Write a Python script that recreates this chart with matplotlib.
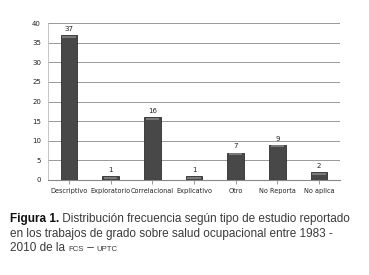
import matplotlib.pyplot as plt

categories = ["Descriptivo", "Exploratorio", "Correlacional", "Explicativo",
              "Otro", "No Reporta", "No aplica"]
values = [37, 1, 16, 1, 7, 9, 2]
y_ticks = [0, 5, 10, 15, 20, 25, 30, 35, 40]

fig = plt.figure(figsize=(3.69, 2.75), dpi=100)
ax = fig.add_axes([48 / 369, 1 - 180 / 275, 292 / 369, 157 / 275])

x = range(len(categories))
bars = ax.bar(x, values, width=0.4, color="#484848",
              edgecolor="#2e2e2e", linewidth=0.6, zorder=3)

# soft highlight along the top of each bar
for b in bars:
    ax.bar(b.get_x() + b.get_width() / 2, 0.5, width=b.get_width() * 0.8,
           bottom=b.get_height() - 0.7, color="#7a7a7a", zorder=4,
           linewidth=0)

for xi, v in zip(x, values):
    ax.text(xi, v + 0.8, str(v), ha="center", va="bottom",
            fontsize=5, color="#222222")

ax.set_ylim(0, 40)
ax.set_xlim(-0.5, len(categories) - 0.5)
ax.set_yticks(y_ticks)
ax.set_yticklabels([str(t) for t in y_ticks], fontsize=5, color="#222222")
ax.set_xticks(list(x))
ax.set_xticklabels(categories, fontsize=4.7, color="#222222")
ax.tick_params(axis="y", length=0, pad=5)
ax.tick_params(axis="x", length=3, width=0.6, color="#888888", pad=3)

ax.grid(axis="y", color="#999999", linewidth=0.7, zorder=0)
for side in ["top", "right"]:
    ax.spines[side].set_visible(False)
ax.spines["left"].set_color("#bbbbbb")
ax.spines["left"].set_linewidth(0.6)
ax.spines["bottom"].set_color("#888888")
ax.spines["bottom"].set_linewidth(0.8)

# caption
font = ["Liberation Sans", "DejaVu Sans"]
fs = 8.5
small = 5.6
col = "#3a3a3a"
fig.canvas.draw()
r = fig.canvas.get_renderer()


def put(parts, x0, y0):
    xp = x0
    for txt, size, weight in parts:
        t = fig.text(xp, y0, txt, fontsize=size, fontweight=weight,
                     family=font, color="#111111" if weight == "bold" else col,
                     va="baseline", ha="left")
        bb = t.get_window_extent(renderer=r)
        xp += bb.width / fig.bbox.width


put([("Figura 1.", fs, "bold"),
     (" Distribución frecuencia según tipo de estudio reportado", fs, "normal")],
    10 / 369, 1 - 222 / 275)
put([("en los trabajos de grado sobre salud ocupacional entre 1983 -", fs, "normal")],
    10 / 369, 1 - 237 / 275)
put([("2010 de la ", fs, "normal"), ("FCS", small, "normal"),
     (" – ", fs, "normal"), ("UPTC", small, "normal")],
    10 / 369, 1 - 251 / 275)

fig.savefig("out.png", dpi=100)
